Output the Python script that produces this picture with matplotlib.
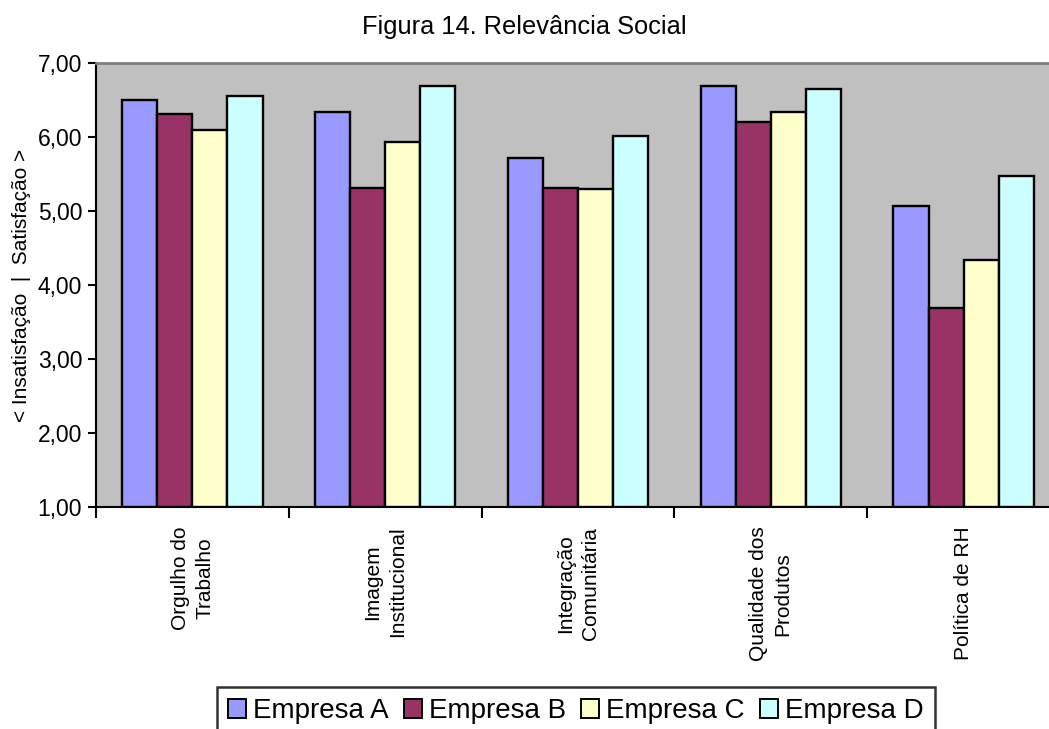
import matplotlib.pyplot as plt
import numpy as np
from matplotlib.patches import Patch

plt.rcParams["font.family"] = ["Liberation Sans", "DejaVu Sans"]

categories = ["Orgulho do\nTrabalho", "Imagem\nInstitucional", "Integração\nComunitária",
              "Qualidade dos\nProdutos", "Política de RH"]
series_names = ["Empresa A", "Empresa B", "Empresa C", "Empresa D"]
empresa_a = [6.50, 6.33, 5.71, 6.69, 5.07]
empresa_b = [6.31, 5.31, 5.31, 6.20, 3.69]
empresa_c = [6.09, 5.93, 5.29, 6.34, 4.34]
empresa_d = [6.55, 6.69, 6.01, 6.64, 5.47]
colors = ["#9999FF", "#993366", "#FFFFCC", "#CCFFFF"]
y_ticks = [1, 2, 3, 4, 5, 6, 7]

fig = plt.figure(figsize=(10.49, 7.29), dpi=100)
ax = fig.add_axes([96 / 1049, 221.7 / 729, 964 / 1049, 444.6 / 729])
ax.set_facecolor("#C0C0C0")

x = np.arange(len(categories))
width = 1 / 5.5
for i, (vals, col) in enumerate(zip([empresa_a, empresa_b, empresa_c, empresa_d], colors)):
    base = 1.0
    ax.bar(x + (i - 1.5) * width, np.array(vals) - base, width, bottom=base,
           color=col, edgecolor="black", linewidth=1.7, zorder=3)

ax.set_xlim(-0.5, len(categories) - 0.5)
ax.set_ylim(1, 7)
ax.set_yticks(y_ticks)
ax.set_yticklabels([f"{v:.2f}".replace(".", ",") for v in y_ticks], fontsize=16.5)
ax.tick_params(axis="y", direction="out", length=6, width=1.5, pad=4)

ax.set_xticks(np.arange(len(categories) + 1) - 0.5)
ax.set_xticklabels([])
ax.tick_params(axis="x", which="major", direction="out", length=8, width=1.5)
ax.set_xticks(x, minor=True)
ax.set_xticklabels(categories, minor=True, rotation=90, fontsize=15,
                   ha="center", va="top", multialignment="center", linespacing=1.35)
ax.tick_params(axis="x", which="minor", length=0, pad=14)

for side in ["left", "bottom"]:
    ax.spines[side].set_color("black")
    ax.spines[side].set_linewidth(1.5)
ax.spines["top"].set_color("#808080")
ax.spines["top"].set_linewidth(2)
ax.spines["right"].set_visible(False)

ax.set_ylabel("< Insatisfação  |  Satisfação >", fontsize=15, labelpad=5)

fig.text(0.5, 0.963, "Figura 14. Relevância Social", ha="center", va="center", fontsize=18.3)

handles = [Patch(facecolor=c, edgecolor="black", linewidth=1.4) for c in colors]
leg = fig.legend(handles, series_names, loc="upper left", bbox_to_anchor=(217 / 1049, 1 - 687 / 729),
                 ncol=4, fontsize=20, frameon=True, fancybox=False, handlelength=0.65,
                 handleheight=0.65, handletextpad=0.25, columnspacing=0.55, borderpad=0.4,
                 borderaxespad=0)
leg.get_frame().set_edgecolor("black")
leg.get_frame().set_linewidth(1.8)

fig.savefig("out.png", dpi=100)
